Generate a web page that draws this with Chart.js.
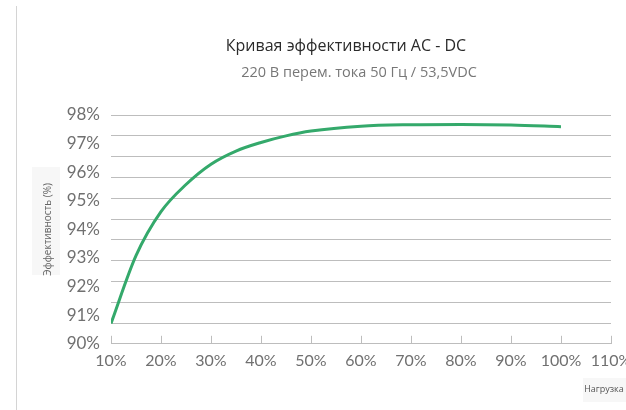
<!DOCTYPE html>
<html>
<head>
<meta charset="utf-8">
<script src="https://cdn.jsdelivr.net/npm/chart.js@4/dist/chart.umd.min.js"></script>
<style>
  html, body { margin: 0; padding: 0; background: #fff; }
  #wrap { position: relative; width: 626px; height: 410px; }
  #edge { position: absolute; left: 16px; top: 6px; bottom: 0; border-left: 1px solid #d4d4d4; }
  canvas { display: block; }
</style>
</head>
<body>
<div id="wrap">
  <div id="edge"></div>
  <canvas id="c" width="626" height="410"></canvas>
</div>
<script>
// Load (% of rated output) and measured AC-DC efficiency (%)
const loadPct = [10, 15, 20, 25, 30, 35, 40, 45, 50, 60, 70, 80, 90, 100];
const efficiency = [90.71, 93.08, 94.62, 95.57, 96.28, 96.74, 97.04, 97.27, 97.44, 97.61, 97.66, 97.67, 97.65, 97.59];

const titleText = 'Кривая эффективности AC - DC';
const subtitleText = '220 В перем. тока 50 Гц / 53,5VDC';
const yAxisTitle = 'Эффективность (%)';
const xAxisTitle = 'Нагрузка';

// Axis ranges and tick steps
const xRange = [10, 110, 10];
const yRange = [90, 98, 1];
const gridBands = 11;

const GRID = '#bdbdbd';

// Header texts, corner caption, faint label backdrops and inward x tick marks
const decorations = {
  id: 'decorations',
  beforeDraw(chart) {
    const ctx = chart.ctx;
    ctx.save();
    ctx.fillStyle = '#f7f7f7';
    ctx.fillRect(32, 167, 28, 108);
    ctx.fillRect(583, 378, 43, 24);
    ctx.restore();
  },
  afterDraw(chart) {
    const ctx = chart.ctx;
    const xs = chart.scales.x;
    const area = chart.chartArea;
    ctx.save();
    ctx.strokeStyle = GRID;
    ctx.lineWidth = 1;
    xs.ticks.forEach(t => {
      const px = Math.round(xs.getPixelForValue(t.value)) + 0.5;
      ctx.beginPath();
      ctx.moveTo(px, area.bottom);
      ctx.lineTo(px, area.bottom - 8);
      ctx.stroke();
    });
    ctx.textAlign = 'center';
    ctx.textBaseline = 'middle';
    ctx.fillStyle = '#2b2b2b';
    ctx.font = '16px "Open Sans"';
    ctx.fillText(titleText, 346, 46);
    ctx.fillStyle = '#777';
    ctx.font = '14.5px "Open Sans"';
    ctx.fillText(subtitleText, 359, 73);
    ctx.fillStyle = '#555';
    ctx.font = '9px "Open Sans"';
    ctx.fillText(xAxisTitle, 604, 389);
    ctx.restore();
  }
};

new Chart(document.getElementById('c'), {
  type: 'line',
  data: {
    datasets: [{
      data: loadPct.map((x, i) => ({ x, y: efficiency[i] })),
      borderColor: '#34a96b',
      borderWidth: 3,
      pointRadius: 0,
      fill: false,
      cubicInterpolationMode: 'monotone'
    }]
  },
  options: {
    responsive: false,
    animation: false,
    events: [],
    layout: { padding: { top: 115, right: 15, left: 0, bottom: 33 } },
    plugins: { legend: { display: false }, tooltip: { enabled: false } },
    scales: {
      x: {
        type: 'linear',
        min: xRange[0], max: xRange[1],
        grid: { display: false, drawTicks: false },
        border: { display: true, color: GRID, width: 1 },
        ticks: {
          stepSize: xRange[2],
          padding: 7,
          color: '#707070',
          font: { family: 'Lato', size: 16 },
          callback: v => v + '%'
        },
        afterFit(scale) { scale.paddingLeft = 0; scale.paddingRight = 0; }
      },
      y: {
        type: 'linear',
        position: 'left',
        min: yRange[0], max: yRange[1],
        grid: { display: false, drawTicks: false },
        border: { display: false },
        ticks: {
          stepSize: yRange[2],
          padding: 11,
          color: '#707070',
          font: { family: 'Lato', size: 17 },
          callback: v => v + '%'
        },
        title: {
          display: true,
          text: yAxisTitle,
          color: '#666',
          font: { family: 'Open Sans', size: 10 },
          padding: { top: 42, bottom: 0 }
        },
        afterFit(scale) { scale.width = 111; scale.paddingTop = 0; scale.paddingBottom = 0; }
      },
      bands: {
        type: 'linear',
        position: 'right',
        min: 0, max: gridBands,
        grid: { color: GRID, lineWidth: 1, drawTicks: false },
        border: { display: false },
        ticks: { display: false, stepSize: 1 },
        afterFit(scale) { scale.width = 0; scale.paddingTop = 0; scale.paddingBottom = 0; }
      }
    }
  },
  plugins: [decorations]
});
</script>
</body>
</html>
